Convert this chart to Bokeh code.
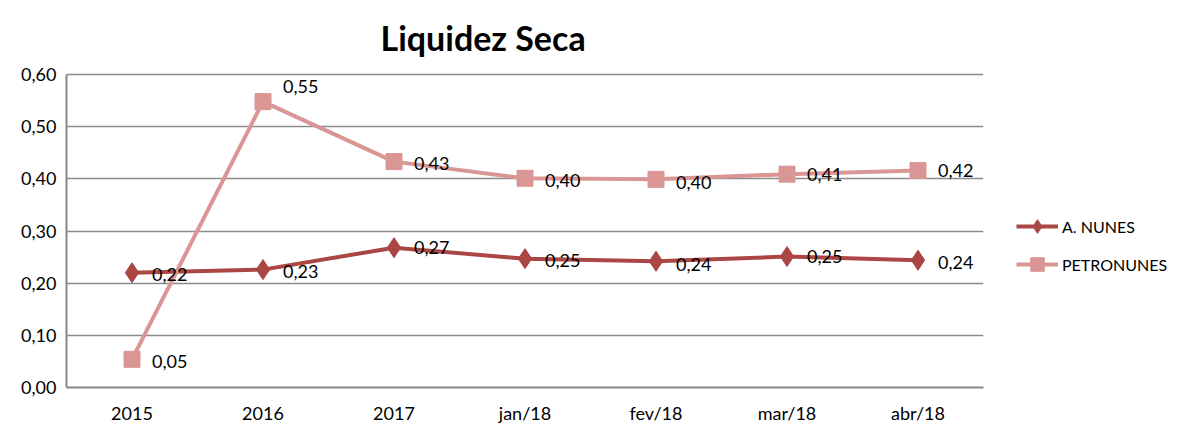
from bokeh.plotting import figure
from bokeh.models import ColumnDataSource, FixedTicker, CustomJSTickFormatter, Legend, LegendItem, Label
from bokeh.core.properties import value
from bokeh.embed import file_html
from bokeh.resources import INLINE

categories = ["2015", "2016", "2017", "jan/18", "fev/18", "mar/18", "abr/18"]
a_nunes = [0.220, 0.226, 0.268, 0.247, 0.242, 0.251, 0.244]
petronunes = [0.054, 0.548, 0.433, 0.401, 0.399, 0.409, 0.416]
y_ticks = [0.0, 0.1, 0.2, 0.3, 0.4, 0.5, 0.6]
title_text = "Liquidez Seca"

# label vertical nudges (style only)
a_label_dy = [2, 2, 0, 2, 3, 0, 2]
p_label_dy = [2, -15, 2, 2, 3, 0, 0]

def fmt(v):
    return f"{v:.2f}".replace(".", ",")

FONT = "Lato"
RED = "#AA4643"
PINK = "#D99694"

src_a = ColumnDataSource(dict(x=categories, y=a_nunes, lab=[fmt(v) for v in a_nunes], dy=a_label_dy))
src_p = ColumnDataSource(dict(x=categories, y=petronunes, lab=[fmt(v) for v in petronunes], dy=p_label_dy))

# frame extends to the top of the canvas so the title can sit inside it;
# the axis line is bounded to 0..0.6
Y_TOP = 0.6 * 387 / 313
p = figure(x_range=categories, y_range=(0, Y_TOP), frame_width=917, frame_height=387,
           output_backend="svg", toolbar_location=None,
           min_border_left=66, min_border_right=0, min_border_bottom=34, min_border_top=0)
p.outline_line_color = None
p.background_fill_color = "white"

title = Label(x=314, y=350, x_units="screen", y_units="screen", text=title_text,
              text_font=FONT, text_font_size="34px", text_font_style="bold",
              text_color="black", text_baseline="alphabetic", text_align="left")
p.add_layout(title)

# lines + markers
la = p.line("x", "y", source=src_a, line_color=RED, line_width=4)
ma = p.scatter("x", "y", source=src_a, marker="diamond", size=20, fill_color=RED, line_color=RED)
lp = p.line("x", "y", source=src_p, line_color=PINK, line_width=4)
mp = p.scatter("x", "y", source=src_p, marker="square", size=16, fill_color=PINK, line_color=PINK)

for s in (src_a, src_p):
    p.text("x", "y", text="lab", source=s, x_offset=20, y_offset="dy",
           text_font=value(FONT), text_font_size="18px", text_color="black",
           text_baseline="middle", text_align="left")

# axes
p.yaxis.ticker = FixedTicker(ticks=y_ticks)
p.yaxis.formatter = CustomJSTickFormatter(code="return tick.toFixed(2).replace('.', ',');")
p.yaxis.bounds = (0, 0.6)
for ax in (p.xaxis[0], p.yaxis[0]):
    ax.axis_line_color = "#868686"
    ax.axis_line_width = 2
    ax.major_tick_line_color = None
    ax.minor_tick_line_color = None
    ax.major_tick_out = 0
    ax.major_tick_in = 0
    ax.major_label_text_font = FONT
    ax.major_label_text_font_size = "18px"
    ax.major_label_text_color = "black"
p.yaxis.major_label_standoff = 10
p.xaxis.major_label_standoff = 14

p.xgrid.grid_line_color = None
p.ygrid.grid_line_color = "#8C8C8C"
p.ygrid.grid_line_width = 1.5
p.ygrid.ticker = FixedTicker(ticks=y_ticks)

legend = Legend(items=[LegendItem(label="A. NUNES", renderers=[la, ma]),
                       LegendItem(label="PETRONUNES", renderers=[lp, mp])],
                location=(33, 106), orientation="vertical",
                glyph_width=42, glyph_height=34, spacing=4, label_standoff=4,
                padding=0, margin=0, border_line_alpha=0, background_fill_alpha=0,
                label_text_font=FONT, label_text_font_size="16px", label_text_color="black")
p.add_layout(legend, "right")

open("out.html", "w").write(file_html(p, INLINE))
